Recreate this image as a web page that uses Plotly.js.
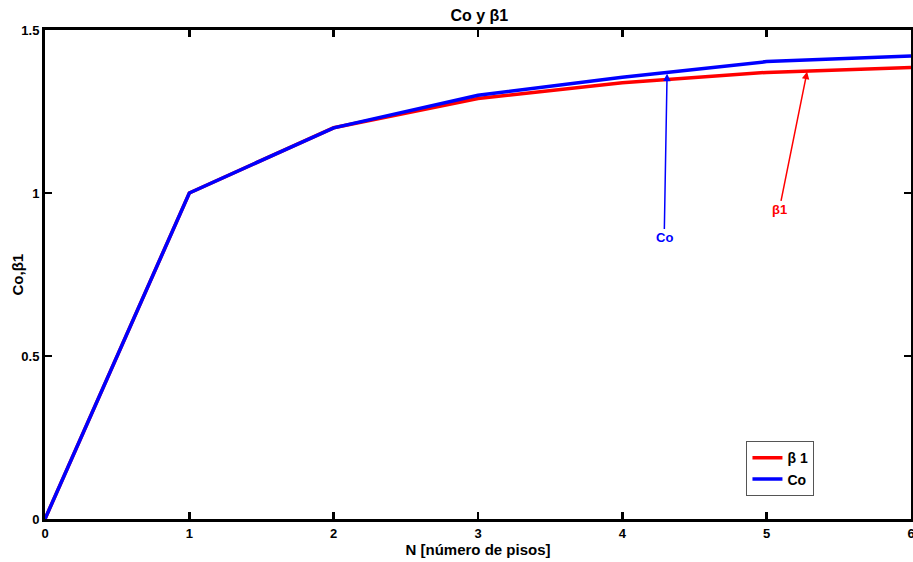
<!DOCTYPE html>
<html>
<head>
<meta charset="utf-8">
<script src="https://cdn.plot.ly/plotly-3.0.1.min.js"></script>
<style>html,body{margin:0;padding:0;background:#fff;}#chart{width:913px;height:562px;}</style>
</head>
<body>
<div id="chart"></div>
<script>
const pisos = [0, 1, 2, 3, 4, 5, 6];
const beta1 = [0, 1, 1.2, 1.29, 1.338, 1.37, 1.385];
const co = [0, 1, 1.2, 1.30, 1.355, 1.403, 1.42];
const xTicks = [0, 1, 2, 3, 4, 5, 6];
const yTicks = [0, 0.5, 1, 1.5];
const yTickText = ['0', '0.5', '1', '1.5'];

const fontFam = 'Liberation Sans, Arial, sans-serif';

const traces = [
  {x: pisos, y: beta1, mode: 'lines', name: 'β 1', line: {color: '#FF0000', width: 3.5}},
  {x: pisos, y: co, mode: 'lines', name: 'Co', line: {color: '#0000FF', width: 3.5}}
];

const axisCommon = {
  showgrid: false, zeroline: false, showline: true, linecolor: '#000', linewidth: 3,
  mirror: 'ticks', ticks: 'inside', ticklen: 7, tickwidth: 2.5, tickcolor: '#000',
  ticklabeloverflow: 'allow',
  tickfont: {family: fontFam, size: 13, color: '#000', weight: 'bold'}
};

const layout = {
  width: 913, height: 562,
  margin: {l: 45, r: 2, t: 30, b: 43},
  paper_bgcolor: '#fff', plot_bgcolor: '#fff',
  title: {text: 'Co y β1', font: {family: fontFam, size: 16, color: '#000', weight: 'bold'}, x: 0.525, xanchor: 'center', y: 0.973, yanchor: 'middle'},
  xaxis: Object.assign({}, axisCommon, {
    range: [0, 6], tickvals: xTicks,
    title: {text: 'N [número de pisos]', font: {family: fontFam, size: 15, color: '#000', weight: 'bold'}, standoff: 3}
  }),
  yaxis: Object.assign({}, axisCommon, {
    range: [0, 1.5], tickvals: yTicks, ticktext: yTickText
  }),
  showlegend: true,
  legend: {
    x: 0.81, y: 0.159, xanchor: 'left', yanchor: 'top',
    bgcolor: '#fff', bordercolor: '#555', borderwidth: 1,
    font: {family: fontFam, size: 14, color: '#000', weight: 'bold'},
    tracegroupgap: 0, itemwidth: 30
  },
  annotations: [
    {text: 'Co,β1', xref: 'paper', yref: 'paper', x: (17 - 45) / 866, y: 0.5, xanchor: 'center', yanchor: 'middle',
     textangle: -90, showarrow: false, font: {family: fontFam, size: 15, color: '#000', weight: 'bold'}},
    {x: 4.31, y: 1.366, xref: 'x', yref: 'y', ax: 4.29, ay: 0.862, axref: 'x', ayref: 'y',
     text: 'Co', showarrow: true, arrowhead: 2, arrowsize: 1, arrowwidth: 1.5, arrowcolor: '#0000FF',
     font: {family: fontFam, size: 13, color: '#0000FF', weight: 'bold'}},
    {x: 5.28, y: 1.372, xref: 'x', yref: 'y', ax: 5.087, ay: 0.948, axref: 'x', ayref: 'y',
     text: 'β1', showarrow: true, arrowhead: 2, arrowsize: 1, arrowwidth: 1.5, arrowcolor: '#FF0000',
     font: {family: fontFam, size: 13, color: '#FF0000', weight: 'bold'}}
  ]
};

Plotly.newPlot('chart', traces, layout, {displayModeBar: false, staticPlot: true});
</script>
</body>
</html>
